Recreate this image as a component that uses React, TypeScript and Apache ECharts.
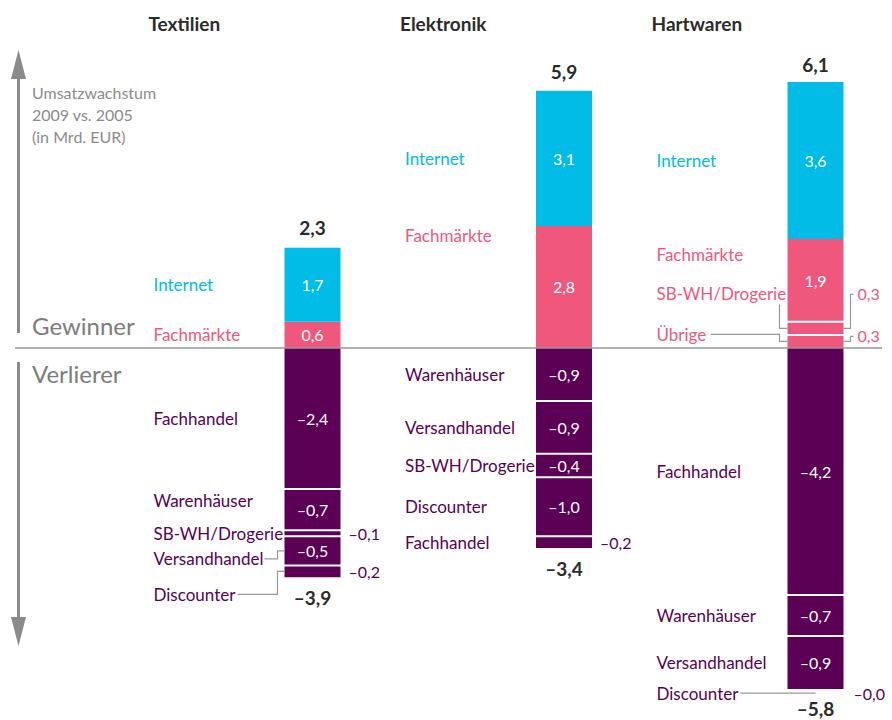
import React, { useEffect, useRef } from "react";
import * as echarts from "echarts";

// ---------- data ----------
const columns = ["Textilien", "Elektronik", "Hartwaren"];

// gainers, listed top → bottom
const textilienGainNames = ["Internet", "Fachmärkte"];
const textilienGainValues = [1.7, 0.6];
const elektronikGainNames = ["Internet", "Fachmärkte"];
const elektronikGainValues = [3.1, 2.8];
const hartwarenGainNames = ["Internet", "Fachmärkte", "SB-WH/Drogerie", "Übrige"];
const hartwarenGainValues = [3.6, 1.9, 0.3, 0.3];

// losers, listed top → bottom
const textilienLossNames = ["Fachhandel", "Warenhäuser", "SB-WH/Drogerie", "Versandhandel", "Discounter"];
const textilienLossValues = [-2.4, -0.7, -0.1, -0.5, -0.2];
const elektronikLossNames = ["Warenhäuser", "Versandhandel", "SB-WH/Drogerie", "Discounter", "Fachhandel"];
const elektronikLossValues = [-0.9, -0.9, -0.4, -1.0, -0.2];
const hartwarenLossNames = ["Fachhandel", "Warenhäuser", "Versandhandel", "Discounter"];
const hartwarenLossValues = [-4.2, -0.7, -0.9, -0.0];

const gainTotals = [2.3, 5.9, 6.1];
const lossTotals = [-3.9, -3.4, -5.8];

const axisNote = ["Umsatzwachstum", "2009 vs. 2005", "(in Mrd. EUR)"];
const upperTitle = "Gewinner";
const lowerTitle = "Verlierer";

// ---------- style ----------
const CYAN = "#00bce6";
const PINK = "#ef587c";
const PURPLE = "#5b0055";
const GRAY = "#8a8a8a";
const DARK = "#2b2b2b";
const FONT = "Lato, 'Open Sans', sans-serif";
const BAR_W = 56;

const gainNames = [textilienGainNames, elektronikGainNames, hartwarenGainNames];
const gainValues = [textilienGainValues, elektronikGainValues, hartwarenGainValues];
const lossNames = [textilienLossNames, elektronikLossNames, hartwarenLossNames];
const lossValues = [textilienLossValues, elektronikLossValues, hartwarenLossValues];

const gainTotalGap = [20, 19, 18];
const lossTotalGap = [20, 21, 19];

type G = { bl: number; br: number; cx: number; cy: number; ny: number; vy: number; top: number; bottom: number };
type Special = {
  nameDy?: number;
  nameFromTop?: number;
  valueOut?: number;
  valueDy?: number;
  left?: (g: G) => number[][];
  right?: (g: G) => number[][];
};

const special: Record<string, Special> = {
  "0|loss|Warenhäuser": { nameDy: -9 },
  "0|loss|SB-WH/Drogerie": { valueOut: 8 },
  "0|loss|Versandhandel": {
    nameDy: 8,
    left: (g) => [[g.bl - 20, g.ny], [g.bl - 7, g.ny], [g.bl - 7, g.cy], [g.bl, g.cy]],
  },
  "0|loss|Discounter": {
    nameDy: 23,
    valueOut: 8,
    left: (g) => [[g.bl - 47, g.ny], [g.bl - 7, g.ny], [g.bl - 7, g.cy], [g.bl, g.cy]],
  },
  "1|gain|Fachmärkte": { nameFromTop: 10 },
  "1|loss|Fachhandel": { valueOut: 8 },
  "2|gain|Fachmärkte": { nameFromTop: 15 },
  "2|gain|SB-WH/Drogerie": {
    nameDy: -35,
    valueOut: 14,
    valueDy: -35,
    left: (g) => [[g.bl - 8, g.ny + 11], [g.bl - 8, g.cy], [g.bl, g.cy]],
    right: (g) => [[g.br, g.cy], [g.br + 7, g.cy], [g.br + 7, g.vy + 1], [g.br + 10, g.vy + 1]],
  },
  "2|gain|Übrige": {
    nameDy: -7,
    valueOut: 14,
    valueDy: -6,
    left: (g) => [[g.bl - 77, g.ny], [g.bl - 8, g.ny], [g.bl - 8, g.cy], [g.bl, g.cy]],
    right: (g) => [[g.br, g.cy], [g.br + 7, g.cy], [g.br + 7, g.vy + 1], [g.br + 10, g.vy + 1]],
  },
  "2|loss|Discounter": {
    nameDy: 4,
    valueOut: 10,
    valueDy: 4,
    left: (g) => [[g.bl - 47, g.ny], [g.cx, g.ny]],
  },
};

function fmt(v: number, loss: boolean) {
  const s = Math.abs(v).toFixed(1).replace(".", ",");
  return loss ? "\u2013" + s : s;
}

function gainColor(name: string) {
  return name === "Internet" ? CYAN : PINK;
}

function text(x: number, y: number, t: string, fill: string, size: number, align = "left", weight = "normal"): any {
  return {
    type: "text",
    x,
    y,
    z: 100,
    silent: true,
    style: {
      text: t,
      fill,
      fontSize: size,
      fontFamily: FONT,
      fontWeight: weight,
      textAlign: align,
      verticalAlign: "middle",
      textVerticalAlign: "middle",
    },
  };
}

function poly(points: number[][], stroke = "#999", width = 1.2): any {
  return {
    type: "polyline",
    z: 100,
    silent: true,
    shape: { points },
    style: { stroke, lineWidth: width, fill: null },
  };
}

export default function App() {
  const ref = useRef<HTMLDivElement>(null);

  useEffect(() => {
    if (!ref.current) return;
    const chart = echarts.init(ref.current, undefined, { renderer: "svg" });

    const series: any[] = [];
    const maxGain = Math.max(...gainValues.map((a) => a.length));
    for (let i = 0; i < maxGain; i++) {
      series.push({
        type: "bar",
        xAxisIndex: 0,
        yAxisIndex: 0,
        stack: "gain",
        barWidth: BAR_W,
        silent: true,
        data: columns.map((_, c) => {
          const n = gainValues[c].length;
          const j = n - 1 - i;
          if (j < 0) return "-";
          return { value: gainValues[c][j], itemStyle: { color: gainColor(gainNames[c][j]) } };
        }),
      });
    }
    const maxLoss = Math.max(...lossValues.map((a) => a.length));
    for (let i = 0; i < maxLoss; i++) {
      series.push({
        type: "bar",
        xAxisIndex: 1,
        yAxisIndex: 1,
        stack: "loss",
        barWidth: BAR_W,
        silent: true,
        itemStyle: { color: PURPLE },
        data: columns.map((_, c) => (i < lossValues[c].length ? lossValues[c][i] : "-")),
      });
    }

    const hiddenCat = (gridIndex: number) => ({
      type: "category",
      gridIndex,
      data: columns,
      boundaryGap: false,
      show: false,
    });

    chart.setOption({
      animation: false,
      grid: [
        { left: 312.5, width: 503, top: 42.8, height: 305.2 },
        { left: 312.5, width: 503, top: 348, height: 352.8 },
      ],
      xAxis: [hiddenCat(0), hiddenCat(1)],
      yAxis: [
        { type: "value", gridIndex: 0, min: 0, max: 7, show: false },
        { type: "value", gridIndex: 1, min: -6, max: 0, show: false },
      ],
      series,
    });

    const px = (grid: number, c: number, v: number) =>
      chart.convertToPixel({ gridIndex: grid }, [c, v]) as number[];

    const g: any[] = [];

    // left double arrow and side captions
    const ax = 18.5;
    g.push({ type: "polygon", z: 100, silent: true, shape: { points: [[11, 79], [26, 79], [ax, 50]] }, style: { fill: GRAY } });
    g.push({ type: "line", z: 100, silent: true, shape: { x1: ax, y1: 78, x2: ax, y2: 333 }, style: { stroke: GRAY, lineWidth: 3 } });
    g.push({ type: "line", z: 100, silent: true, shape: { x1: ax, y1: 362, x2: ax, y2: 618 }, style: { stroke: GRAY, lineWidth: 3 } });
    g.push({ type: "polygon", z: 100, silent: true, shape: { points: [[11, 617], [26, 617], [ax, 646]] }, style: { fill: GRAY } });
    axisNote.forEach((t, i) => g.push(text(32, 92 + i * 22, t, "#8c8c8c", 16)));
    g.push(text(32, 325, upperTitle, "#7d7d7d", 24));
    g.push(text(32, 373, lowerTitle, "#7d7d7d", 24));

    columns.forEach((col, c) => {
      const cx = px(0, c, 0)[0];
      const bl = cx - BAR_W / 2;
      const br = cx + BAR_W / 2;

      g.push(text(bl - 136, 23, col, DARK, 19, "left", "bold"));

      // gainers
      const gv = gainValues[c];
      const gn = gainNames[c];
      let below = 0;
      const gainSegs: any[] = [];
      for (let j = gv.length - 1; j >= 0; j--) {
        const lo = below;
        const hi = below + gv[j];
        below = hi;
        gainSegs[j] = { lo, hi };
      }
      gv.forEach((v, j) => {
        const top = px(0, c, gainSegs[j].hi)[1];
        const bottom = px(0, c, gainSegs[j].lo)[1];
        const cy = (top + bottom) / 2;
        const sp = special[`${c}|gain|${gn[j]}`] || {};
        const ny = sp.nameFromTop !== undefined ? top + sp.nameFromTop : cy + (sp.nameDy || 0);
        const vy = cy + (sp.valueDy || 0);
        const color = gainColor(gn[j]);
        g.push(text(bl - 131, ny, gn[j], color, 17));
        if (sp.valueOut !== undefined) g.push(text(br + sp.valueOut, vy, fmt(v, false), color, 16));
        else g.push(text(cx, vy, fmt(v, false), "#ffffff", 16, "center"));
        const geo: G = { bl, br, cx, cy, ny, vy, top, bottom };
        if (sp.left) g.push(poly(sp.left(geo)));
        if (sp.right) g.push(poly(sp.right(geo)));
        // white gap between segments (not between Internet and Fachmärkte)
        if (j > 0) {
          const a = gn[j - 1];
          const b = gn[j];
          const flush = (a === "Internet" || a === "Fachmärkte") && (b === "Internet" || b === "Fachmärkte");
          if (!flush) g.push({ type: "line", z: 90, silent: true, shape: { x1: bl - 1, y1: top, x2: br + 1, y2: top }, style: { stroke: "#fff", lineWidth: 2 } });
        }
      });
      const gTop = px(0, c, gainTotals[c])[1];
      g.push(text(cx, gTop - gainTotalGap[c], fmt(gainTotals[c], false), DARK, 19, "center", "bold"));

      // losers
      const lv = lossValues[c];
      const ln = lossNames[c];
      let above = 0;
      lv.forEach((v, j) => {
        const hi = above;
        const lo = above + v;
        above = lo;
        const top = px(1, c, hi)[1];
        const bottom = px(1, c, lo)[1];
        const cy = (top + bottom) / 2;
        const sp = special[`${c}|loss|${ln[j]}`] || {};
        const ny = sp.nameFromTop !== undefined ? top + sp.nameFromTop : cy + (sp.nameDy || 0);
        const vy = cy + (sp.valueDy || 0);
        g.push(text(bl - 131, ny, ln[j], PURPLE, 17));
        if (sp.valueOut !== undefined) g.push(text(br + sp.valueOut, vy, fmt(v, true), PURPLE, 16));
        else g.push(text(cx, vy, fmt(v, true), "#ffffff", 16, "center"));
        const geo: G = { bl, br, cx, cy, ny, vy, top, bottom };
        if (sp.left) g.push(poly(sp.left(geo)));
        if (sp.right) g.push(poly(sp.right(geo)));
        if (j > 0 && v !== 0) {
          g.push({ type: "line", z: 90, silent: true, shape: { x1: bl - 1, y1: top, x2: br + 1, y2: top }, style: { stroke: "#fff", lineWidth: 2 } });
        }
      });
      const lBottom = px(1, c, lossTotals[c])[1];
      g.push(text(cx, lBottom + lossTotalGap[c], fmt(lossTotals[c], true), DARK, 19, "center", "bold"));
    });

    // baseline
    const baseY = px(0, 0, 0)[1];
    g.push({ type: "line", z: 95, silent: true, shape: { x1: 15, y1: baseY, x2: 882, y2: baseY }, style: { stroke: "#999", lineWidth: 1.5 } });

    chart.setOption({ graphic: { elements: g } });

    return () => chart.dispose();
  }, []);

  return (
    <div
      ref={ref}
      style={{ position: "absolute", left: 0, top: 0, width: 892, height: 720, background: "#fff" }}
    />
  );
}
